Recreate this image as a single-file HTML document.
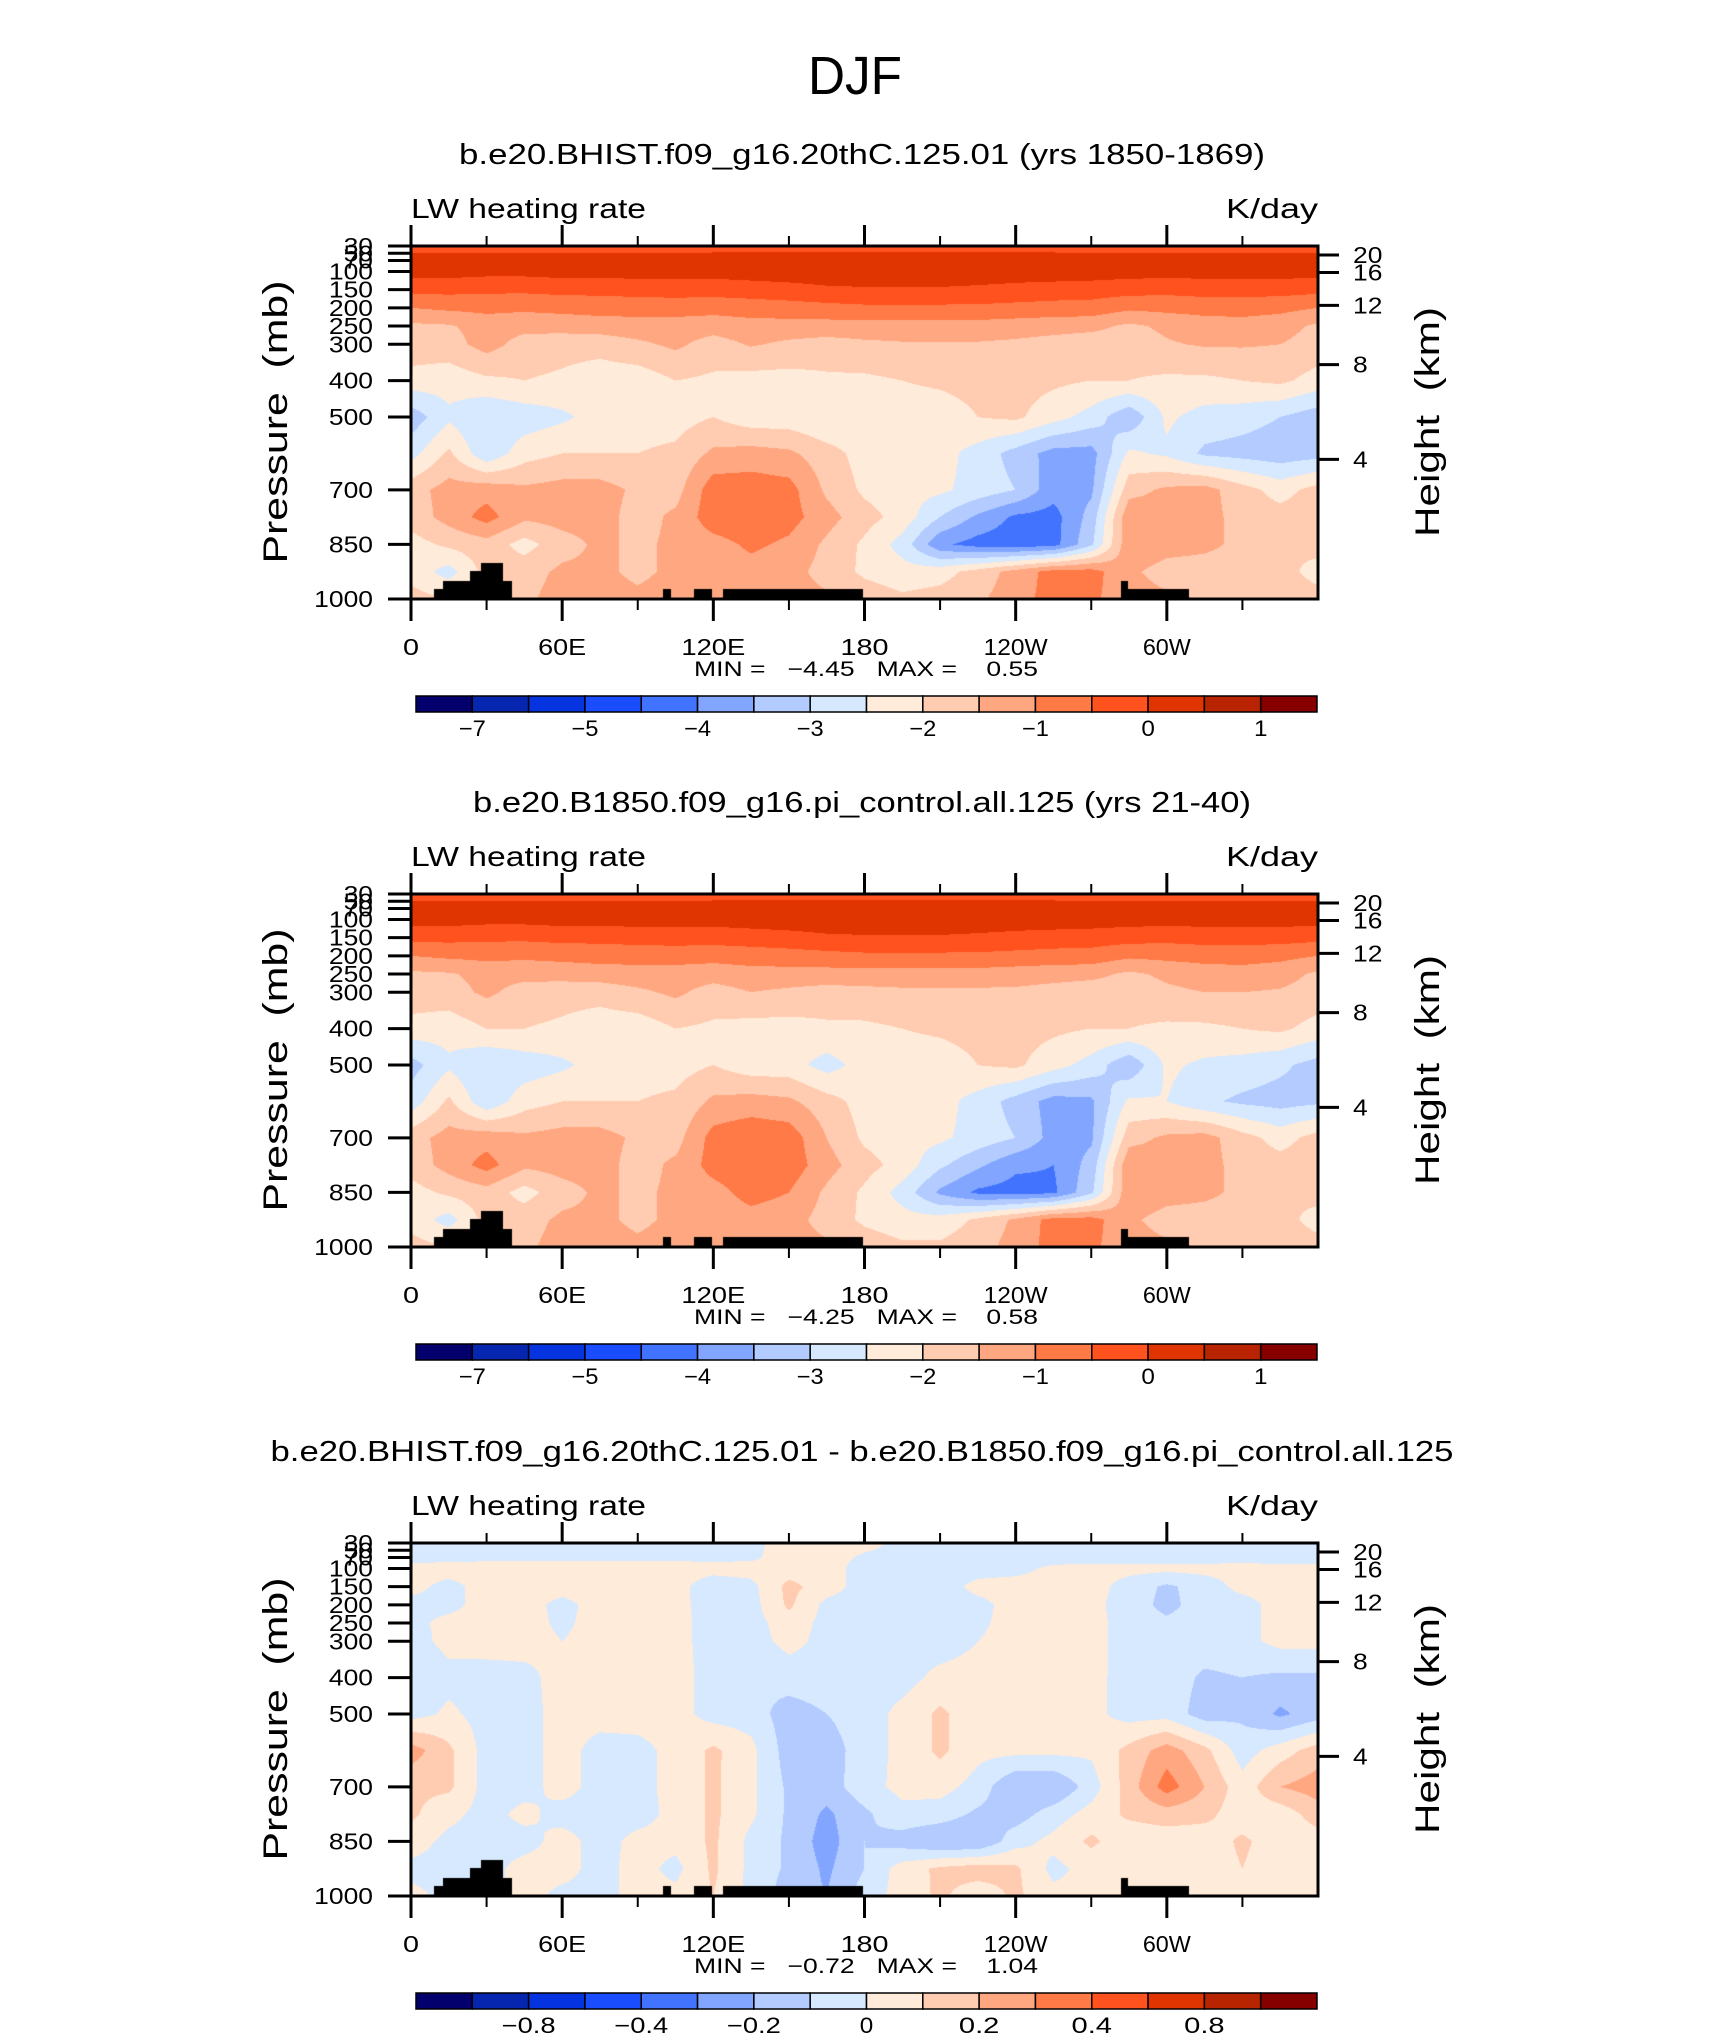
<!DOCTYPE html>
<html><head><meta charset="utf-8"><title>DJF LW heating rate</title>
<style>
html,body{margin:0;padding:0;background:#fff;}
#root{position:relative;width:1710px;height:2038px;overflow:hidden;background:#fff;}
canvas{position:absolute;}
svg{position:absolute;left:0;top:0;}
text{font-family:"Liberation Sans",sans-serif;fill:#000;}
.pre{white-space:pre;}
</style></head>
<body>
<div id="root">
<canvas id="c0" width="907" height="353" style="left:411px;top:246px"></canvas>
<canvas id="c1" width="907" height="353" style="left:411px;top:894px"></canvas>
<canvas id="c2" width="907" height="353" style="left:411px;top:1543px"></canvas>
<svg id="svg" width="1710" height="2038" viewBox="0 0 1710 2038"></svg>
</div>
<script>
// ---------- data ----------
const lons = [0,15,30,45,60,75,90,105,120,135,150,165,180,195,210,225,240,255,270,285,300,315,330,345,360];
const pLevels = [30,70,100,150,200,250,300,400,500,600,700,775,850,925,1000];

const field1 = [
[-0.2,-0.2,-0.2,-0.2,-0.2,-0.2,-0.2,-0.2,-0.2,-0.2,-0.2,-0.2,-0.2,-0.2,-0.2,-0.2,-0.2,-0.2,-0.2,-0.2,-0.2,-0.2,-0.2,-0.2,-0.2],
[0.2,0.2,0.2,0.2,0.2,0.2,0.2,0.2,0.25,0.25,0.3,0.3,0.3,0.3,0.3,0.3,0.25,0.25,0.2,0.2,0.2,0.2,0.2,0.2,0.2],
[0.2,0.2,0.15,0.15,0.2,0.2,0.2,0.2,0.2,0.25,0.3,0.35,0.3,0.3,0.3,0.3,0.25,0.25,0.25,0.2,0.2,0.2,0.2,0.2,0.2],
[-0.35,-0.35,-0.4,-0.4,-0.35,-0.35,-0.3,-0.3,-0.3,-0.25,-0.2,-0.1,-0.05,-0.05,-0.05,-0.1,-0.15,-0.2,-0.25,-0.3,-0.35,-0.3,-0.3,-0.3,-0.35],
[-1.0,-0.9,-0.85,-0.9,-0.85,-0.8,-0.8,-0.75,-0.8,-0.75,-0.7,-0.65,-0.6,-0.6,-0.6,-0.6,-0.65,-0.7,-0.7,-0.9,-0.85,-0.8,-0.8,-0.85,-1.0],
[-1.6,-1.55,-1.3,-1.35,-1.3,-1.25,-1.2,-1.25,-1.3,-1.2,-1.2,-1.2,-1.2,-1.2,-1.2,-1.2,-1.25,-1.3,-1.35,-1.6,-1.4,-1.25,-1.2,-1.3,-1.6],
[-1.7,-1.7,-1.3,-1.7,-1.8,-1.8,-1.6,-1.4,-1.7,-1.45,-1.6,-1.7,-1.6,-1.55,-1.55,-1.55,-1.6,-1.7,-1.8,-1.75,-1.55,-1.45,-1.45,-1.5,-1.7],
[-2.2,-2.3,-2.1,-2.0,-2.1,-2.3,-2.3,-2.0,-2.1,-2.2,-2.2,-2.1,-2.1,-2.0,-1.9,-1.8,-1.8,-1.9,-2.0,-2.0,-2.1,-2.1,-2.0,-1.9,-2.2],
[-3.3,-2.6,-3.0,-2.8,-2.6,-2.3,-2.2,-2.2,-2.0,-2.3,-2.3,-2.5,-2.3,-2.3,-2.3,-2.0,-1.9,-2.3,-2.7,-3.4,-2.4,-2.7,-2.8,-3.0,-3.3],
[-2.7,-1.9,-2.9,-2.2,-2.0,-2.0,-2.0,-1.9,-1.4,-1.3,-1.4,-1.8,-2.2,-2.2,-2.3,-2.7,-3.2,-3.7,-3.7,-2.4,-2.6,-3.1,-3.2,-3.3,-3.2],
[-1.7,-1.3,-1.2,-1.4,-1.3,-1.3,-1.6,-1.7,-0.7,-0.7,-0.8,-1.6,-2.1,-2.3,-2.4,-2.7,-3.0,-3.8,-3.6,-1.7,-1.4,-1.3,-1.8,-2.2,-1.8],
[-1.8,-1.3,-0.8,-1.4,-1.3,-1.3,-1.7,-1.4,-0.7,-0.6,-0.8,-1.3,-1.8,-2.2,-3.0,-3.6,-4.1,-4.2,-3.3,-1.1,-1.3,-1.3,-1.7,-1.8,-1.7],
[-2.2,-1.9,-1.7,-2.2,-1.7,-1.4,-1.6,-1.4,-1.2,-0.9,-1.1,-1.6,-2.1,-2.7,-3.9,-4.2,-4.3,-4.2,-3.1,-1.1,-1.3,-1.4,-1.6,-2.0,-1.8],
[-2.2,-2.7,-1.8,-1.7,-1.4,-1.4,-1.6,-1.4,-1.3,-1.2,-1.3,-1.7,-2.1,-2.3,-2.2,-1.8,-1.3,-0.8,-0.8,-1.4,-1.7,-1.7,-1.7,-1.8,-2.2],
[-1.8,-2.0,-1.8,-1.6,-1.3,-1.3,-1.4,-1.3,-1.3,-1.3,-1.3,-1.4,-1.7,-1.9,-1.8,-1.6,-1.2,-0.8,-0.9,-1.3,-1.4,-1.7,-1.7,-1.7,-1.8]
];

const field2 = [
[-0.2,-0.2,-0.2,-0.2,-0.2,-0.2,-0.2,-0.2,-0.2,-0.2,-0.2,-0.2,-0.2,-0.2,-0.2,-0.2,-0.2,-0.2,-0.2,-0.2,-0.2,-0.2,-0.2,-0.2,-0.2],
[0.2,0.2,0.2,0.2,0.2,0.2,0.2,0.2,0.25,0.25,0.3,0.3,0.3,0.3,0.3,0.3,0.25,0.25,0.2,0.2,0.2,0.2,0.2,0.2,0.2],
[0.2,0.2,0.15,0.15,0.2,0.2,0.2,0.2,0.2,0.25,0.3,0.35,0.3,0.3,0.3,0.3,0.25,0.25,0.25,0.2,0.2,0.2,0.2,0.2,0.2],
[-0.35,-0.35,-0.4,-0.4,-0.35,-0.35,-0.3,-0.3,-0.3,-0.25,-0.2,-0.1,-0.05,-0.05,-0.05,-0.1,-0.15,-0.2,-0.25,-0.3,-0.35,-0.3,-0.3,-0.3,-0.35],
[-1.0,-0.9,-0.85,-0.9,-0.85,-0.8,-0.8,-0.75,-0.8,-0.75,-0.7,-0.65,-0.6,-0.6,-0.6,-0.6,-0.65,-0.7,-0.7,-0.9,-0.85,-0.8,-0.8,-0.85,-1.0],
[-1.6,-1.55,-1.35,-1.35,-1.3,-1.25,-1.2,-1.25,-1.3,-1.2,-1.2,-1.2,-1.2,-1.2,-1.2,-1.2,-1.25,-1.3,-1.35,-1.6,-1.4,-1.25,-1.2,-1.3,-1.6],
[-1.7,-1.7,-1.4,-1.7,-1.8,-1.8,-1.6,-1.4,-1.7,-1.5,-1.6,-1.7,-1.65,-1.6,-1.6,-1.6,-1.6,-1.7,-1.8,-1.75,-1.6,-1.5,-1.5,-1.55,-1.7],
[-2.2,-2.3,-2.0,-2.0,-2.1,-2.3,-2.3,-2.0,-2.1,-2.2,-2.2,-2.1,-2.1,-2.0,-1.9,-1.8,-1.8,-1.9,-2.0,-2.0,-2.1,-2.1,-2.0,-1.9,-2.2],
[-3.2,-2.6,-3.0,-2.8,-2.6,-2.3,-2.2,-2.2,-2.0,-2.3,-2.3,-2.7,-2.3,-2.3,-2.3,-2.0,-1.9,-2.3,-2.7,-3.4,-2.4,-2.6,-2.7,-2.9,-3.2],
[-2.8,-1.9,-2.9,-2.2,-2.0,-2.0,-2.0,-1.9,-1.4,-1.3,-1.4,-1.8,-2.2,-2.2,-2.3,-2.7,-3.2,-3.7,-3.6,-2.4,-2.5,-2.9,-3.1,-3.2,-3.1],
[-1.7,-1.3,-1.2,-1.4,-1.3,-1.3,-1.6,-1.7,-0.8,-0.6,-0.7,-1.5,-2.1,-2.3,-2.4,-2.7,-3.0,-3.7,-3.6,-1.7,-1.4,-1.3,-1.8,-2.2,-1.8],
[-1.8,-1.3,-0.8,-1.4,-1.3,-1.3,-1.7,-1.4,-0.8,-0.6,-0.7,-1.3,-1.8,-2.2,-2.9,-3.4,-3.9,-4.0,-3.3,-1.1,-1.3,-1.3,-1.7,-1.8,-1.7],
[-2.2,-1.9,-1.7,-2.2,-1.7,-1.4,-1.6,-1.4,-1.2,-0.8,-1.0,-1.6,-2.1,-2.7,-3.6,-4.1,-4.2,-4.1,-3.1,-1.1,-1.3,-1.4,-1.6,-2.0,-1.8],
[-2.2,-2.7,-1.8,-1.7,-1.4,-1.4,-1.6,-1.4,-1.3,-1.2,-1.3,-1.7,-2.1,-2.3,-2.3,-1.9,-1.4,-0.8,-0.8,-1.4,-1.7,-1.7,-1.7,-1.8,-2.2],
[-1.8,-2.0,-1.8,-1.6,-1.3,-1.3,-1.4,-1.3,-1.3,-1.3,-1.3,-1.4,-1.7,-1.9,-1.9,-1.7,-1.3,-0.8,-0.9,-1.3,-1.4,-1.7,-1.7,-1.7,-1.8]
];

const field3 = [
[-0.05,-0.05,-0.05,-0.05,-0.05,-0.05,-0.05,-0.05,-0.05,-0.03,0.05,0.05,0.04,-0.03,-0.05,-0.05,-0.05,-0.05,-0.05,-0.05,-0.05,-0.05,-0.05,-0.05,-0.05],
[-0.03,-0.03,-0.02,-0.02,-0.02,-0.02,-0.02,-0.02,-0.02,-0.02,0.05,0.05,-0.02,-0.04,-0.04,-0.04,-0.04,-0.04,-0.04,-0.04,-0.04,-0.04,-0.03,-0.03,-0.03],
[0.03,0.04,0.04,0.04,0.04,0.04,0.04,0.04,0.03,0.04,0.05,0.05,-0.05,-0.05,-0.05,-0.04,-0.03,0.02,0.03,0.03,0.03,0.03,0.03,0.02,0.02],
[0.03,-0.03,0.04,0.04,0.04,0.04,0.04,0.03,-0.05,-0.03,0.13,0.05,-0.05,-0.05,-0.05,0.03,0.04,0.04,0.04,-0.04,-0.12,-0.05,0.03,0.04,0.04],
[-0.03,-0.03,0.04,0.04,-0.03,0.04,0.04,0.04,-0.06,-0.04,0.12,-0.03,-0.05,-0.05,-0.05,-0.03,0.04,0.04,0.03,-0.05,-0.13,-0.05,-0.04,0.04,0.04],
[-0.03,0.03,0.04,0.04,-0.02,0.04,0.04,0.04,-0.05,-0.04,0.05,-0.03,-0.05,-0.05,-0.05,-0.02,0.04,0.04,0.04,-0.05,-0.08,-0.05,-0.03,0.03,0.03],
[-0.04,0.03,0.04,0.04,0.0,0.04,0.04,0.04,-0.05,-0.04,0.03,-0.03,-0.05,-0.05,-0.05,0.0,0.04,0.04,0.04,-0.05,-0.05,-0.04,-0.03,0.03,0.03],
[-0.1,-0.03,-0.04,-0.03,0.04,0.04,0.04,0.04,-0.04,-0.1,-0.05,-0.04,-0.04,-0.04,0.03,0.04,0.04,0.03,0.03,-0.04,-0.04,-0.12,-0.1,-0.12,-0.12],
[-0.04,0.02,-0.04,-0.04,0.04,0.04,0.04,0.04,-0.04,-0.05,-0.15,-0.1,-0.05,0.03,0.12,0.04,0.04,0.04,0.03,-0.04,-0.04,-0.15,-0.12,-0.22,-0.15],
[0.25,0.12,-0.04,-0.04,0.04,-0.04,-0.03,0.03,0.12,0.03,-0.15,-0.15,-0.05,0.03,0.12,0.03,0.03,0.03,0.02,0.13,0.25,0.13,-0.05,0.05,0.15],
[0.12,0.12,-0.04,-0.04,0.04,-0.04,-0.03,0.03,0.12,0.02,-0.12,-0.15,-0.04,0.03,0.04,-0.04,-0.2,-0.2,-0.05,0.15,0.35,0.2,0.04,0.2,0.25],
[0.12,0.03,-0.04,0.03,-0.04,-0.04,-0.04,0.03,0.12,0.02,-0.12,-0.22,-0.12,-0.03,-0.05,-0.12,-0.15,-0.05,0.04,0.12,0.15,0.13,0.04,0.04,0.15],
[0.05,-0.03,-0.04,-0.04,0.04,-0.04,0.03,0.03,0.12,-0.03,-0.12,-0.25,-0.1,-0.15,-0.2,-0.2,-0.04,0.03,0.12,0.03,0.04,0.04,0.12,0.04,0.05],
[-0.03,-0.04,-0.04,0.04,0.04,-0.04,0.04,-0.03,0.12,-0.03,-0.12,-0.22,-0.1,0.05,0.12,0.15,0.12,-0.03,0.04,0.04,0.04,0.04,0.1,0.03,0.03],
[0.03,-0.03,-0.03,0.04,-0.03,-0.03,0.03,0.03,0.1,-0.03,-0.15,-0.2,-0.05,0.04,0.12,0.04,0.12,0.03,0.03,0.04,0.04,0.03,0.04,0.03,0.03]
];

// contour levels (15 boundaries -> 16 colour bins)
const levelsAbs = [-7,-6,-5,-4.5,-4,-3.5,-3,-2.5,-2,-1.5,-1,-0.5,0,0.5,1];
const levelsDiff = [-1,-0.8,-0.6,-0.4,-0.3,-0.2,-0.1,0,0.1,0.2,0.3,0.4,0.6,0.8,1];
const cbLabelsAbs = ["−7","−5","−4","−3","−2","−1","0","1"];
const cbLabelIdxAbs = [1,3,5,7,9,11,13,15];
const cbLabelsDiff = ["−0.8","−0.4","−0.2","0","0.2","0.4","0.8"];
const cbLabelIdxDiff = [2,4,6,8,10,12,14];
const palette = ["#03006e","#0626b0","#0533e0","#1a4dff","#4173ff","#82a5ff","#b3cbff","#d6e9ff","#ffebda","#ffcbb1","#ffa781","#ff7a46","#ff521f","#e03500","#b82400","#870000"];

// topography: [lonStart, lonEnd, topPressure]
const topoLon0 = [9.2,12.6,23.4,27.6,36.7,99.9,112.5,124,281.9,284.6];
const topoLon1 = [12.6,23.4,27.6,36.7,40.2,103.3,119.4,179.5,284.6,308.8];
const topoTop  = [973,950,923,900,950,973,973,973,950,973];

const pressTicks = [30,50,70,100,150,200,250,300,400,500,700,850,1000];
const heightTicks = [20,16,12,8,4];
const lonTickVals = [0,60,120,180,240,300];
const lonTickLabels = ["0","60E","120E","180","120W","60W"];
const lonMinorVals = [30,90,150,210,270,330];

const titles = ["b.e20.BHIST.f09_g16.20thC.125.01 (yrs 1850-1869)","b.e20.B1850.f09_g16.pi_control.all.125 (yrs 21-40)","b.e20.BHIST.f09_g16.20thC.125.01 - b.e20.B1850.f09_g16.pi_control.all.125"];
const minText = ["−4.45","−4.25","−0.72"];
const maxText = ["0.55","0.58","1.04"];

// ---------- geometry ----------
const PX0 = 411, PW = 907, PH = 353;
const panelTops = [246, 894, 1543];
const titleW = [806, 778, 1183];
function xOf(lon){ return PX0 + lon/360*PW; }
function yOf(p, top){ return top + (p-30)/970*PH; }
function pOfZ(zkm){ const z=zkm*1000; if(z<=11000) return 1013.25*Math.pow(1-2.25577e-5*z,5.25588); return 226.32*Math.exp(-(z-11000)/6341.6); }

function interp(field, lon, p){
  let i = Math.min(lons.length-2, Math.floor(lon/15));
  let fx = (lon - lons[i])/15;
  let j = 0; while(j < pLevels.length-2 && p > pLevels[j+1]) j++;
  let fy = (p - pLevels[j])/(pLevels[j+1]-pLevels[j]);
  fy = Math.max(0,Math.min(1,fy));
  const a=field[j][i], b=field[j][i+1], c=field[j+1][i], d=field[j+1][i+1];
  return (a*(1-fx)+b*fx)*(1-fy) + (c*(1-fx)+d*fx)*fy;
}
function binOf(v, levels){ let k=0; while(k<levels.length && v>=levels[k]) k++; return k; }
function hexRgb(h){ return [parseInt(h.substr(1,2),16),parseInt(h.substr(3,2),16),parseInt(h.substr(5,2),16)]; }
const rgbPal = palette.map(hexRgb);

function drawField(id, field, levels){
  const cv = document.getElementById(id), ctx = cv.getContext('2d');
  const img = ctx.createImageData(PW, PH);
  for(let y=0;y<PH;y++){
    const p = 30 + (y+0.5)/PH*970;
    for(let x=0;x<PW;x++){
      const lon = (x+0.5)/PW*360;
      let c = rgbPal[binOf(interp(field, lon, p), levels)];
      for(let t=0;t<topoLon0.length;t++){
        if(lon>=topoLon0[t] && lon<topoLon1[t] && p>=topoTop[t]) { c=[0,0,0]; break; }
      }
      const o=(y*PW+x)*4; img.data[o]=c[0]; img.data[o+1]=c[1]; img.data[o+2]=c[2]; img.data[o+3]=255;
    }
  }
  ctx.putImageData(img,0,0);
}
drawField('c0', field1, levelsAbs);
drawField('c1', field2, levelsAbs);
drawField('c2', field3, levelsDiff);

// ---------- SVG overlay ----------
const NS = "http://www.w3.org/2000/svg";
const svg = document.getElementById('svg');
function mk(tag, attrs, parent){ const e=document.createElementNS(NS,tag); for(const k in attrs) e.setAttribute(k, attrs[k]); (parent||svg).appendChild(e); return e; }
function txt(s, attrs, parent){ const e=mk('text', attrs, parent); e.textContent=s; return e; }

let djf = txt("DJF", {x:855, y:94, 'font-size':54, 'text-anchor':'middle', textLength:94, lengthAdjust:'spacingAndGlyphs'});



for(let k=0;k<3;k++){
  const top = panelTops[k];
  const g = mk('g', {});
  
  

  const t = txt(titles[k], {x:862, y:top-82, 'font-size':29, 'text-anchor':'middle', textLength:titleW[k], lengthAdjust:'spacingAndGlyphs'}, g);
  
  

  const lw = txt("LW heating rate", {x:411, y:top-28, 'font-size':28, textLength:235, lengthAdjust:'spacingAndGlyphs'}, g);
  
  
  const un = txt("K/day", {x:1318, y:top-28, 'font-size':28, 'text-anchor':'end', textLength:92, lengthAdjust:'spacingAndGlyphs'}, g);
  
  

  const fr = mk('rect', {x:PX0, y:top, width:PW, height:PH, fill:'none', stroke:'#000', 'stroke-width':3}, g);
  
  

  pressTicks.forEach(p=>{
    const y = yOf(p, top);
    const ln = mk('line', {x1:388, x2:PX0, y1:y, y2:y, stroke:'#000', 'stroke-width':3}, g);
    
    
    const s = String(p);
    const lb = txt(s, {x:373, y:y+8, 'font-size':23, 'text-anchor':'end', textLength:s.length*14.7, lengthAdjust:'spacingAndGlyphs'}, g);
    
    
  });
  const ya = txt("Pressure  (mb)", {x:0, y:0, 'font-size':34, 'text-anchor':'middle', textLength:283, lengthAdjust:'spacingAndGlyphs', transform:`translate(287,${top+176}) rotate(-90)`, class:'pre'}, g);
  
  

  heightTicks.forEach(z=>{
    const y = yOf(pOfZ(z), top);
    const ln = mk('line', {x1:PX0+PW, x2:1339, y1:y, y2:y, stroke:'#000', 'stroke-width':3}, g);
    
    
    const s = String(z);
    const lb = txt(s, {x:1353, y:y+8, 'font-size':23, textLength:s.length*14.7, lengthAdjust:'spacingAndGlyphs'}, g);
    
    
  });
  const ha = txt("Height  (km)", {x:0, y:0, 'font-size':34, 'text-anchor':'middle', textLength:230, lengthAdjust:'spacingAndGlyphs', transform:`translate(1439,${top+176}) rotate(-90)`, class:'pre'}, g);
  
  

  lonTickVals.forEach((lon,i)=>{
    const x = xOf(lon);
    const b = mk('line', {x1:x, x2:x, y1:top+PH, y2:top+PH+22, stroke:'#000', 'stroke-width':3}, g);
    
    
    const tt = mk('line', {x1:x, x2:x, y1:top, y2:top-21, stroke:'#000', 'stroke-width':3}, g);
    
    
    const s = lonTickLabels[i];
    const lb = txt(s, {x:x, y:top+409, 'font-size':23, 'text-anchor':'middle', textLength:s.length*16, lengthAdjust:'spacingAndGlyphs'}, g);
    
    
  });
  lonMinorVals.forEach(lon=>{
    const x = xOf(lon);
    const b = mk('line', {x1:x, x2:x, y1:top+PH, y2:top+PH+11, stroke:'#000', 'stroke-width':2}, g);
    
    
    const tt = mk('line', {x1:x, x2:x, y1:top, y2:top-10, stroke:'#000', 'stroke-width':2}, g);
    
    
  });

  const mm = txt(`MIN =   ${minText[k]}   MAX =    ${maxText[k]}`, {x:866, y:top+430, 'font-size':21, 'text-anchor':'middle', textLength:344, lengthAdjust:'spacingAndGlyphs', class:'pre'}, g);
  
  

  const cbx0 = 416, cbx1 = 1317, cbw = (cbx1-cbx0)/16, cby = top+450, cbh = 16;
  const cbg = mk('g', {}, g);
  
  
  for(let b=0;b<16;b++){
    const r = mk('rect', {x:cbx0+b*cbw, y:cby, width:cbw, height:cbh, fill:palette[b], stroke:'#000', 'stroke-width':1.5}, cbg);
    
    
  }
  const labs = k<2 ? cbLabelsAbs : cbLabelsDiff;
  const idx = k<2 ? cbLabelIdxAbs : cbLabelIdxDiff;
  labs.forEach((s,i)=>{
    const x = cbx0 + idx[i]*cbw;
    const lb = txt(s, {x:x, y:cby+40, 'font-size':22, 'text-anchor':'middle', textLength:s.length*13.5, lengthAdjust:'spacingAndGlyphs'}, cbg);
    
    
  });
}
</script>
</body></html>
